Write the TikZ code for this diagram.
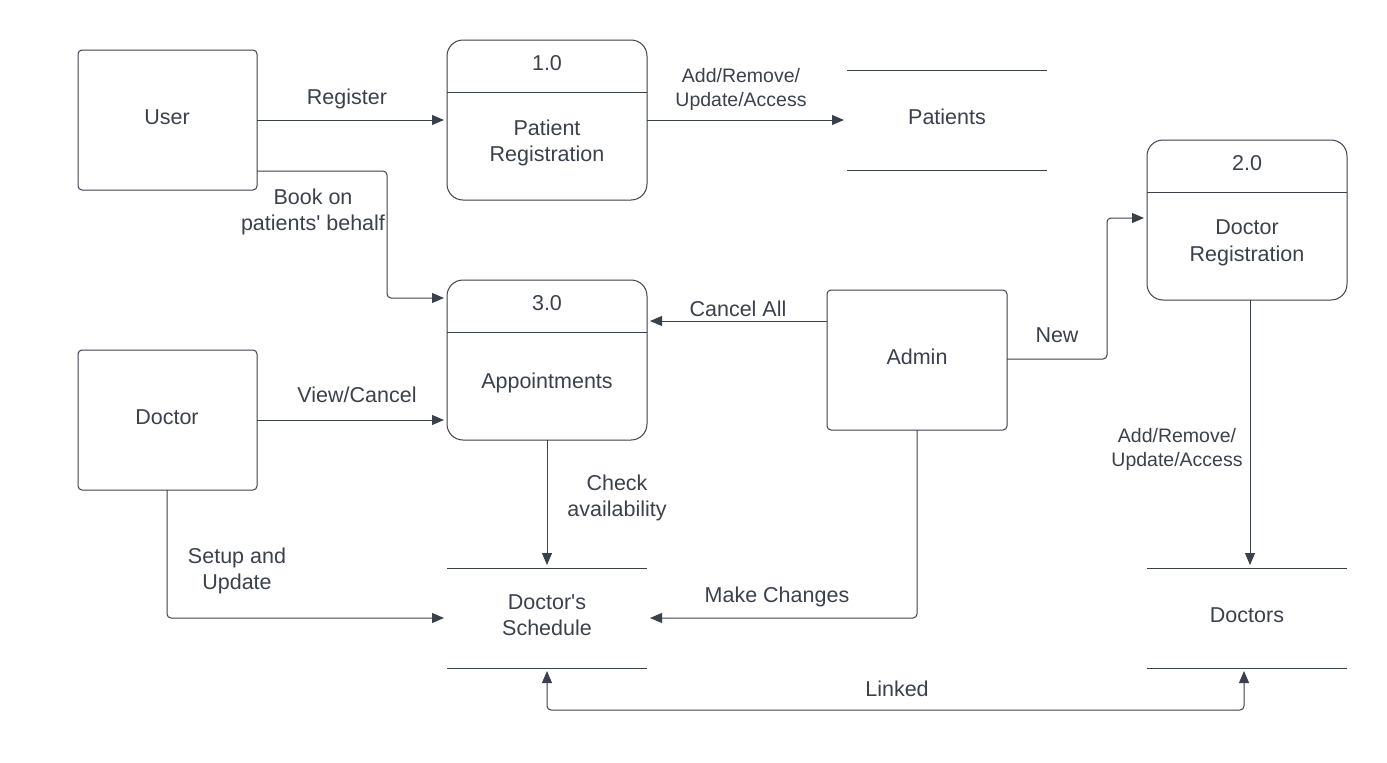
\documentclass[tikz,border=0pt]{standalone}
\usepackage{fontspec}
\setmainfont{Liberation Sans}
\usetikzlibrary{arrows.meta}
\definecolor{ink}{HTML}{3A414A}
\begin{document}
\begin{tikzpicture}[x=1pt,y=-1pt,
  every node/.style={font=\fontsize{21.5}{26.5}\selectfont, text=ink},
  ent/.style={draw=ink, line width=1pt, rounded corners=4pt},
  proc/.style={draw=ink, line width=1pt, rounded corners=16pt},
  sline/.style={draw=ink, line width=1pt},
  flow/.style={draw=ink, line width=1pt, rounded corners=4pt, -{Triangle[length=12pt,width=10pt]}, shorten >=3pt},
  lbl/.style={align=center, inner sep=0pt},
  small/.style={font=\fontsize{19.5}{24}\selectfont}
]
\useasboundingbox (0,0) rectangle (1387,763);
% external entities
\draw[ent] (78,50) rectangle (257,190);
\node (user) at (167,117) {User};
\draw[ent] (78,350) rectangle (257,490);
\node (doctor) at (167,417) {Doctor};
\draw[ent] (827,290) rectangle (1007,430);
\node (admin) at (917,357) {Admin};
% processes
\draw[proc] (447,40) rectangle (647,200);
\draw[sline] (447,92) -- (647,92);
\node at (547,63) {1.0};
\node[lbl] (p1) at (547,143) {Patient\\Registration};
\draw[proc] (447,280) rectangle (647,440);
\draw[sline] (447,332) -- (647,332);
\node at (547,303) {3.0};
\node (p3) at (547,383) {Appointments};
\draw[proc] (1147,140) rectangle (1347,300);
\draw[sline] (1147,192) -- (1347,192);
\node at (1247,163) {2.0};
\node[lbl] (p2) at (1247,243) {Doctor\\Registration};
% data stores
\draw[sline] (847,70) -- (1047,70) (847,170) -- (1047,170);
\node (patients) at (947,117) {Patients};
\draw[sline] (447,568) -- (647,568) (447,668) -- (647,668);
\node[lbl] (sched) at (547,615) {Doctor\textquotesingle s\\Schedule};
\draw[sline] (1147,568) -- (1347,568) (1147,668) -- (1347,668);
\node (doctors) at (1247,615) {Doctors};
% flows
\coordinate (a1) at (257,120); \coordinate (b1) at (447,120);
\draw[flow] (a1) -- (b1);
\node[lbl] at (347,99) {Register};
\coordinate (a2) at (647,120); \coordinate (b2) at (847,120);
\draw[flow] (a2) -- (b2);
\node[lbl,small] at (741,89) {Add/Remove/\\Update/Access};
\coordinate (a3) at (257,171); \coordinate (b3) at (447,298);
\draw[flow] (a3) -| (387,298) -- (b3);
\node[lbl] at (313,212) {Book on\\patients\textquotesingle\ behalf};
\coordinate (a4) at (827,321); \coordinate (b4) at (647,321);
\draw[flow] (a4) -- (b4);
\node[lbl] at (738,309) {Cancel All};
\coordinate (a5) at (1007,359); \coordinate (b5) at (1147,218);
\draw[flow] (a5) -| (1107,218) -- (b5);
\node[lbl] at (1057,335) {New};
\coordinate (a6) at (257,420); \coordinate (b6) at (447,420);
\draw[flow] (a6) -- (b6);
\node[lbl] at (357,395) {View/Cancel};
\coordinate (a7) at (547,440); \coordinate (b7) at (547,568);
\draw[flow] (a7) -- (b7);
\node[lbl] at (617,498) {Check\\availability};
\coordinate (a8) at (167,490); \coordinate (b8) at (447,618);
\draw[flow] (a8) |- (b8);
\node[lbl] at (237,571) {Setup and\\Update};
\coordinate (a9) at (917,430); \coordinate (b9) at (647,618);
\draw[flow] (a9) |- (b9);
\node[lbl] at (777,597) {Make Changes};
\coordinate (a10) at (1250,300); \coordinate (b10) at (1250,568);
\draw[flow] (a10) -- (b10);
\node[lbl,small] at (1177,449) {Add/Remove/\\Update/Access};
\coordinate (a11) at (547,668); \coordinate (b11) at (1244,668);
\draw[flow, {Triangle[length=12pt,width=10pt]}-{Triangle[length=12pt,width=10pt]}, shorten <=3pt] (a11) -- (547,710) -- (1244,710) -- (b11);
\node[lbl] at (897,689) {Linked};
\end{tikzpicture}
\end{document}
